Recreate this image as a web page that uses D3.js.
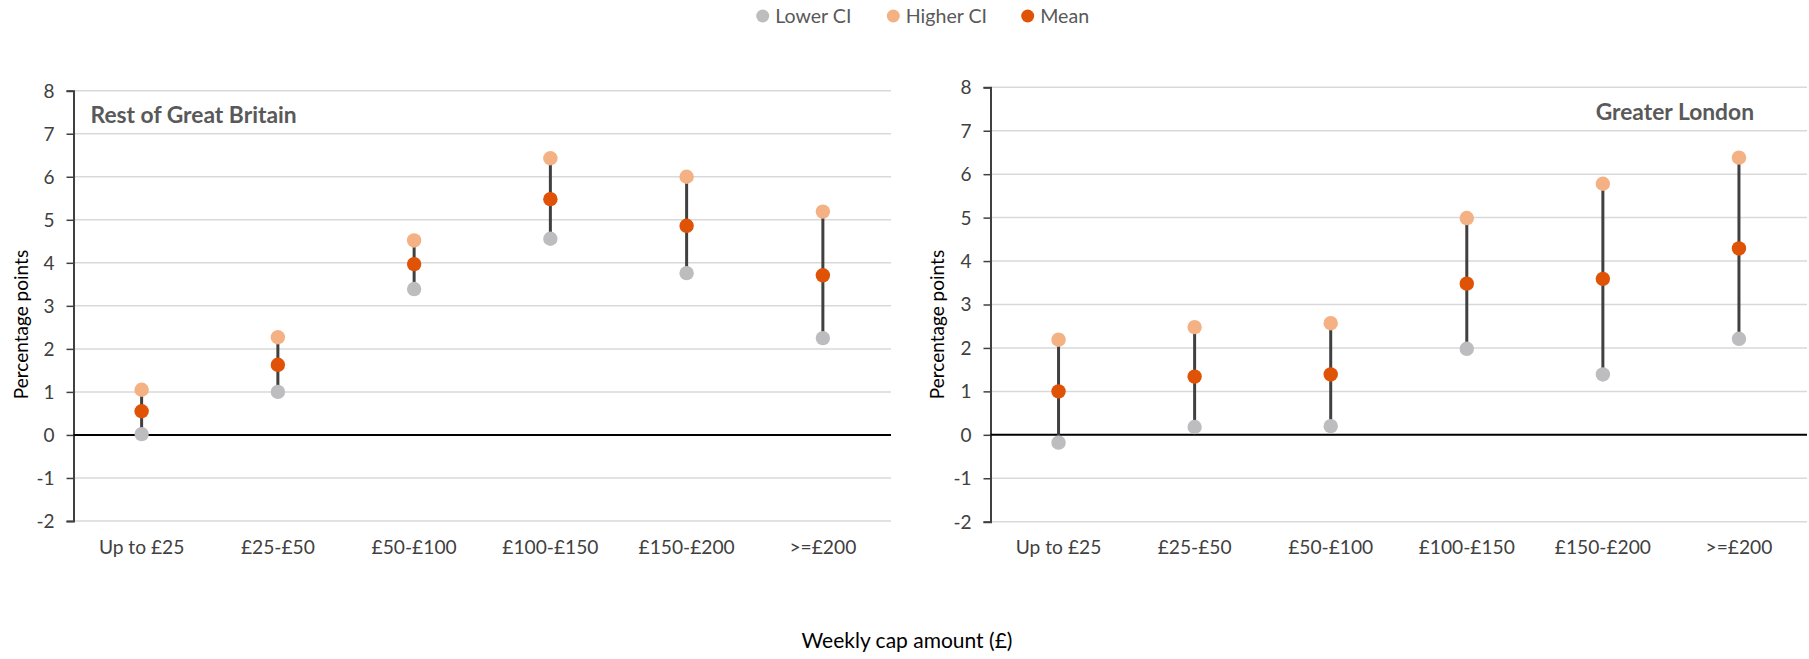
<!DOCTYPE html>
<html>
<head>
<meta charset="utf-8">
<script src="https://cdn.jsdelivr.net/npm/d3@7/dist/d3.min.js"></script>
<style>
  html, body { margin: 0; padding: 0; background: #fff; }
  svg { display: block; font-family: Lato, "Open Sans", sans-serif; }
</style>
</head>
<body>
<svg id="chart" width="1809" height="659"></svg>
<script>
// Weekly cap bands shared by both panels
const categories = ["Up to £25", "£25-£50", "£50-£100", "£100-£150", "£150-£200", ">=£200"];
const yTicks = [-2, -1, 0, 1, 2, 3, 4, 5, 6, 7, 8];

// Rest of Great Britain: effect estimates (percentage points)
const gbLower = [0.02, 1.0, 3.39, 4.56, 3.76, 2.25];
const gbMean  = [0.55, 1.63, 3.97, 5.48, 4.86, 3.71];
const gbUpper = [1.05, 2.27, 4.52, 6.43, 6.0, 5.19];

// Greater London: effect estimates (percentage points)
const ldnLower = [-0.18, 0.18, 0.2, 1.98, 1.39, 2.21];
const ldnMean  = [1.0, 1.34, 1.39, 3.48, 3.59, 4.29];
const ldnUpper = [2.19, 2.48, 2.57, 4.99, 5.78, 6.38];

const colors = { lower: "#BDBDC0", upper: "#F4B183", mean: "#E05206" };
const legendItems = [
  { label: "Lower CI", color: colors.lower },
  { label: "Higher CI", color: colors.upper },
  { label: "Mean", color: colors.mean }
];

const svg = d3.select("#chart");

const panels = [
  { title: "Rest of Great Britain", lower: gbLower, mean: gbMean, upper: gbUpper,
    left: 73.5, right: 891, top: 90.7, bottom: 521, titleX: 90.5, titleY: 123, titleAnchor: "start", yLabelX: 28 },
  { title: "Greater London", lower: ldnLower, mean: ldnMean, upper: ldnUpper,
    left: 990.5, right: 1807, top: 87.3, bottom: 521.7, titleX: 1754, titleY: 120, titleAnchor: "end", yLabelX: 943.5 }
];

panels.forEach(p => {
  const x = d3.scaleBand().domain(categories).range([p.left, p.right]);
  const y = d3.scaleLinear().domain([-2, 8]).range([p.bottom, p.top]);
  const g = svg.append("g");

  // horizontal gridlines
  g.append("g").selectAll("line").data(yTicks.filter(t => t !== 0)).join("line")
    .attr("x1", p.left).attr("x2", p.right)
    .attr("y1", d => y(d)).attr("y2", d => y(d))
    .attr("stroke", "#D9D9D9").attr("stroke-width", 1.5);

  // y axis
  const yAxis = g.append("g").attr("transform", `translate(${p.left},0)`)
    .call(d3.axisLeft(y).tickValues(yTicks).tickSize(7).tickPadding(12).tickFormat(d => String(d)));
  yAxis.select(".domain").attr("stroke", "#404040").attr("stroke-width", 2);
  yAxis.selectAll(".tick line").attr("stroke", "#404040").attr("stroke-width", 1.5);
  yAxis.selectAll(".tick text").attr("fill", "#404040").style("font-size", "19px")
    .style("font-family", "Lato, sans-serif").attr("dy", "0.34em");

  // zero line
  g.append("line").attr("x1", p.left).attr("x2", p.right)
    .attr("y1", y(0)).attr("y2", y(0)).attr("stroke", "#000").attr("stroke-width", 2);

  // category labels
  const xAxis = g.append("g").attr("transform", `translate(0,${p.bottom})`)
    .call(d3.axisBottom(x).tickSize(0).tickPadding(19));
  xAxis.select(".domain").remove();
  xAxis.selectAll(".tick text").attr("fill", "#404040").style("font-size", "19.2px")
    .style("font-family", "Lato, sans-serif");

  const cx = d => x(d) + x.bandwidth() / 2;
  const rows = categories.map((c, i) => ({ c, lo: p.lower[i], m: p.mean[i], hi: p.upper[i] }));

  // CI stems
  g.append("g").selectAll("line").data(rows).join("line")
    .attr("x1", d => cx(d.c)).attr("x2", d => cx(d.c))
    .attr("y1", d => y(d.lo)).attr("y2", d => y(d.hi))
    .attr("stroke", "#404040").attr("stroke-width", 3);

  // markers
  [["lo", colors.lower], ["hi", colors.upper], ["m", colors.mean]].forEach(([k, col]) => {
    g.append("g").selectAll("circle").data(rows).join("circle")
      .attr("cx", d => cx(d.c)).attr("cy", d => y(d[k])).attr("r", 7.2).attr("fill", col);
  });

  // panel title
  g.append("text").attr("x", p.titleX).attr("y", p.titleY).attr("text-anchor", p.titleAnchor)
    .attr("fill", "#595959").style("font-size", "22.8px").style("font-weight", "bold").text(p.title);

  // y axis title
  g.append("text").attr("transform", `translate(${p.yLabelX},${324.5}) rotate(-90)`)
    .attr("text-anchor", "middle").attr("fill", "#000").style("font-size", "19px")
    .text("Percentage points");
});

// shared x axis title
svg.append("text").attr("x", 907).attr("y", 648).attr("text-anchor", "middle")
  .attr("fill", "#000").style("font-size", "21px").text("Weekly cap amount (£)");

// legend
const legendX = [762.7, 893.3, 1027.7];
const legend = svg.append("g").selectAll("g").data(legendItems).join("g")
  .attr("transform", (d, i) => `translate(${legendX[i]},16)`);
legend.append("circle").attr("r", 6.5).attr("fill", d => d.color);
legend.append("text").attr("x", 12.5).attr("dy", "0.36em").attr("fill", "#595959")
  .style("font-size", "19.6px").text(d => d.label);
</script>
</body>
</html>
